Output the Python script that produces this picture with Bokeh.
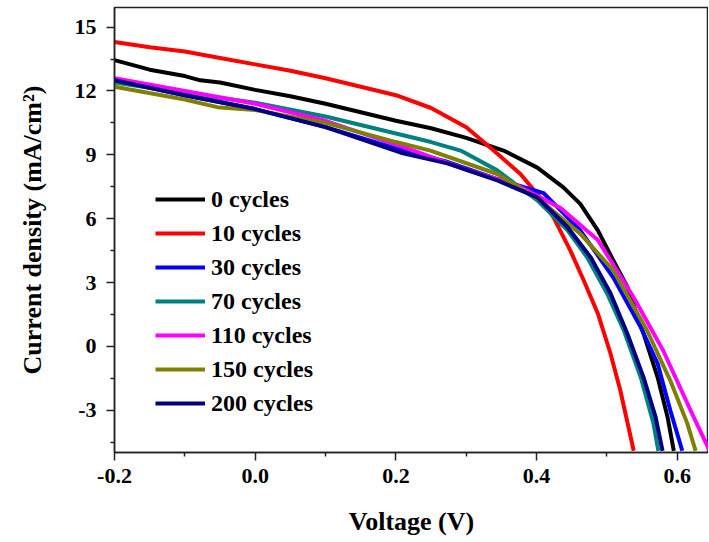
from bokeh.plotting import figure
from bokeh.models import FixedTicker, Legend, LegendItem, Range1d
from bokeh.embed import file_html
from bokeh.resources import INLINE

# ---- data ----
series_names = ["0 cycles", "10 cycles", "30 cycles", "70 cycles", "110 cycles", "150 cycles", "200 cycles"]
series_colors = ["#000000", "#FF0000", "#0000FF", "#008080", "#FF00FF", "#808000", "#000080"]

v_0 = [-0.2, -0.15, -0.1, -0.078, -0.05, 0.0, 0.05, 0.1, 0.15, 0.2, 0.25, 0.3, 0.353, 0.401, 0.438, 0.462, 0.487, 0.509, 0.529, 0.552, 0.572, 0.586, 0.595]
j_0 = [13.45, 13.0, 12.7, 12.5, 12.4, 12.05, 11.75, 11.4, 11.0, 10.6, 10.25, 9.8, 9.2, 8.4, 7.47, 6.7, 5.45, 4.04, 2.8, 0.6, -1.45, -3.3, -4.9]

v_10 = [-0.2, -0.15, -0.1, -0.05, 0.0, 0.05, 0.1, 0.15, 0.2, 0.25, 0.3, 0.339, 0.377, 0.405, 0.424, 0.448, 0.467, 0.487, 0.505, 0.519, 0.538]
j_10 = [14.3, 14.05, 13.85, 13.55, 13.25, 12.95, 12.6, 12.2, 11.8, 11.2, 10.3, 9.2, 8.1, 7.0, 6.06, 4.5, 3.1, 1.55, -0.33, -2.07, -4.9]

v_30 = [-0.2, -0.1, 0.0, 0.1, 0.2, 0.27, 0.34, 0.41, 0.462, 0.509, 0.548, 0.572, 0.59, 0.607]
j_30 = [12.5, 11.8, 11.15, 10.3, 9.3, 8.7, 7.9, 7.2, 5.45, 3.24, 0.9, -0.8, -3.0, -4.9]

v_70 = [-0.2, -0.1, 0.0, 0.1, 0.2, 0.25, 0.292, 0.344, 0.401, 0.444, 0.472, 0.5, 0.524, 0.548, 0.566, 0.573]
j_70 = [12.4, 11.9, 11.45, 10.8, 10.0, 9.6, 9.2, 8.27, 6.86, 5.45, 4.18, 2.5, 0.75, -1.45, -3.6, -4.9]

v_110 = [-0.2, -0.1, 0.0, 0.1, 0.225, 0.3, 0.37, 0.434, 0.487, 0.538, 0.58, 0.623, 0.646]
j_110 = [12.6, 12.0, 11.4, 10.6, 9.2, 8.3, 7.6, 6.5, 5.0, 2.3, -0.2, -3.3, -4.9]

v_150 = [-0.2, -0.1, -0.054, 0.0, 0.1, 0.2, 0.249, 0.344, 0.405, 0.462, 0.509, 0.557, 0.59, 0.614, 0.626]
j_150 = [12.2, 11.6, 11.24, 11.1, 10.5, 9.6, 9.2, 8.1, 6.86, 5.3, 3.57, 0.75, -1.6, -3.6, -4.9]

v_200 = [-0.2, -0.1, 0.0, 0.1, 0.207, 0.273, 0.344, 0.401, 0.444, 0.477, 0.505, 0.529, 0.552, 0.569, 0.579]
j_200 = [12.5, 11.8, 11.15, 10.3, 9.1, 8.6, 7.8, 7.0, 5.6, 4.18, 2.5, 0.6, -1.45, -3.3, -4.9]

x_ticks = [-0.2, 0.0, 0.2, 0.4, 0.6]
x_tick_labels = ["-0.2", "0.0", "0.2", "0.4", "0.6"]
x_minor = [-0.1, 0.1, 0.3, 0.5]
y_ticks = [-3, 0, 3, 6, 9, 12, 15]
y_tick_labels = ["-3", "0", "3", "6", "9", "12", "15"]
y_minor = [-4.5, -1.5, 1.5, 4.5, 7.5, 10.5, 13.5]

series_v = [v_0, v_10, v_30, v_70, v_110, v_150, v_200]
series_j = [j_0, j_10, j_30, j_70, j_110, j_150, j_200]

FONT = "Liberation Serif"

p = figure(width=708, height=538, output_backend="svg", toolbar_location=None,
           x_range=Range1d(-0.2, 0.6443), y_range=Range1d(-4.98, 15.92),
           min_border_left=114, min_border_right=0, min_border_top=7, min_border_bottom=86)
p.background_fill_color = "white"
p.border_fill_color = "white"
p.grid.visible = False
p.outline_line_color = "#222222"
p.outline_line_width = 1.5

renderers = []
for v, j, c in zip(series_v, series_j, series_colors):
    r = p.line(v, j, line_color=c, line_width=4, line_join="round")
    renderers.append(r)

items = [LegendItem(label=n, renderers=[r]) for n, r in zip(series_names, renderers)]
legend = Legend(items=items, location=(41, 32), orientation="vertical",
                glyph_width=50, glyph_height=34, spacing=0, padding=0, margin=0,
                label_standoff=6, label_text_font=FONT, label_text_font_style="bold",
                label_text_font_size="24px", label_text_color="black",
                border_line_color=None, background_fill_alpha=0)
p.add_layout(legend)

p.xaxis.ticker = FixedTicker(ticks=x_ticks, minor_ticks=x_minor)
p.yaxis.ticker = FixedTicker(ticks=y_ticks, minor_ticks=y_minor)
p.xaxis.major_label_overrides = {t: l for t, l in zip(x_ticks, x_tick_labels)}
p.yaxis.major_label_overrides = {t: l for t, l in zip(y_ticks, y_tick_labels)}

for ax in (p.xaxis, p.yaxis):
    ax.axis_line_color = "#222222"
    ax.axis_line_width = 1.5
    ax.major_tick_line_color = "#222222"
    ax.minor_tick_line_color = "#222222"
    ax.major_tick_line_width = 1.5
    ax.minor_tick_line_width = 1.5
    ax.major_tick_out = 8
    ax.major_tick_in = 0
    ax.minor_tick_out = 4
    ax.minor_tick_in = 0
    ax.major_label_text_font = FONT
    ax.major_label_text_font_style = "bold"
    ax.major_label_text_font_size = "22px"
    ax.major_label_text_color = "black"
    ax.axis_label_text_font = FONT
    ax.axis_label_text_font_style = "bold"
    ax.axis_label_text_font_size = "26px"
    ax.axis_label_text_color = "black"

p.xaxis.axis_label = "Voltage (V)"
p.yaxis.axis_label = "Current density (mA/cm²)"
p.xaxis.major_label_standoff = 8
p.yaxis.major_label_standoff = 10
p.xaxis.axis_label_standoff = 21
p.yaxis.axis_label_standoff = 25

open("out.html", "w").write(file_html(p, INLINE))
